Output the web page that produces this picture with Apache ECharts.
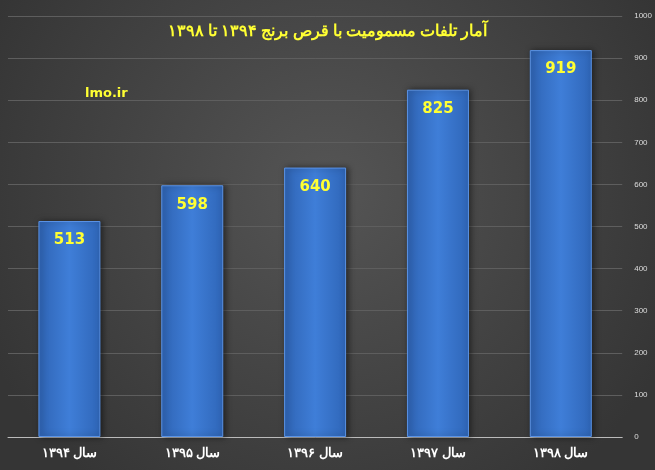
<!DOCTYPE html>
<html><head><meta charset="utf-8">
<script src="https://cdn.jsdelivr.net/npm/echarts@6/dist/echarts.min.js"></script>
<style>html,body{margin:0;padding:0;}#c{width:655px;height:470px;}</style>
</head><body><div id="c"></div>
<script>
const categories = ['سال ۱۳۹۴','سال ۱۳۹۵','سال ۱۳۹۶','سال ۱۳۹۷','سال ۱۳۹۸'];
const values = [513, 598, 640, 825, 919];
const chart = echarts.init(document.getElementById('c'));
chart.setOption({
  backgroundColor: {type:'radial',x:0.5,y:0.4,r:0.8,colorStops:[{offset:0,color:'#555555'},{offset:1,color:'#353535'}]},
  title: {text:'آمار تلفات مسمومیت با قرص برنج ۱۳۹۴ تا ۱۳۹۸', left:'center', top:18,
    textStyle:{color:'#ffff33', fontSize:16, fontWeight:'bold', fontFamily:'Noto Sans'}},
  graphic: [{type:'text', left:85, top:87, style:{text:'lmo.ir', fill:'#ffff33', font:'bold 13px "DejaVu Sans"'}}],
  grid: {left:8, right:30, top:16, bottom:33},
  xAxis: {type:'category', data:categories,
    axisLine:{lineStyle:{color:'#bbbbbb'}}, axisTick:{show:false},
    axisLabel:{color:'#ffffff', fontSize:13, fontWeight:'bold', margin:10, fontFamily:'Noto Sans'}},
  yAxis: {type:'value', position:'right', min:0, max:1000, interval:100,
    axisLine:{show:false}, axisTick:{show:false},
    splitLine:{lineStyle:{color:'#5e5e5e', width:1}},
    axisLabel:{color:'#dddddd', fontSize:8, margin:12, formatter:v=>String(v)}},
  series: [{type:'bar', data:values, barWidth:62,
    itemStyle:{color:{type:'linear',x:0,y:0,x2:1,y2:0,colorStops:[{offset:0,color:'#2f64b4'},{offset:0.5,color:'#3f7ed8'},{offset:1,color:'#2f66b8'}]},
      borderColor:'#5b93e6', borderWidth:1, shadowColor:'rgba(0,0,0,0.5)', shadowBlur:6, shadowOffsetX:2},
    label:{show:true, position:'insideTop', distance:12, color:'#ffff33', fontSize:15, fontWeight:'bold', fontFamily:'DejaVu Sans'}}]
});
</script></body></html>
